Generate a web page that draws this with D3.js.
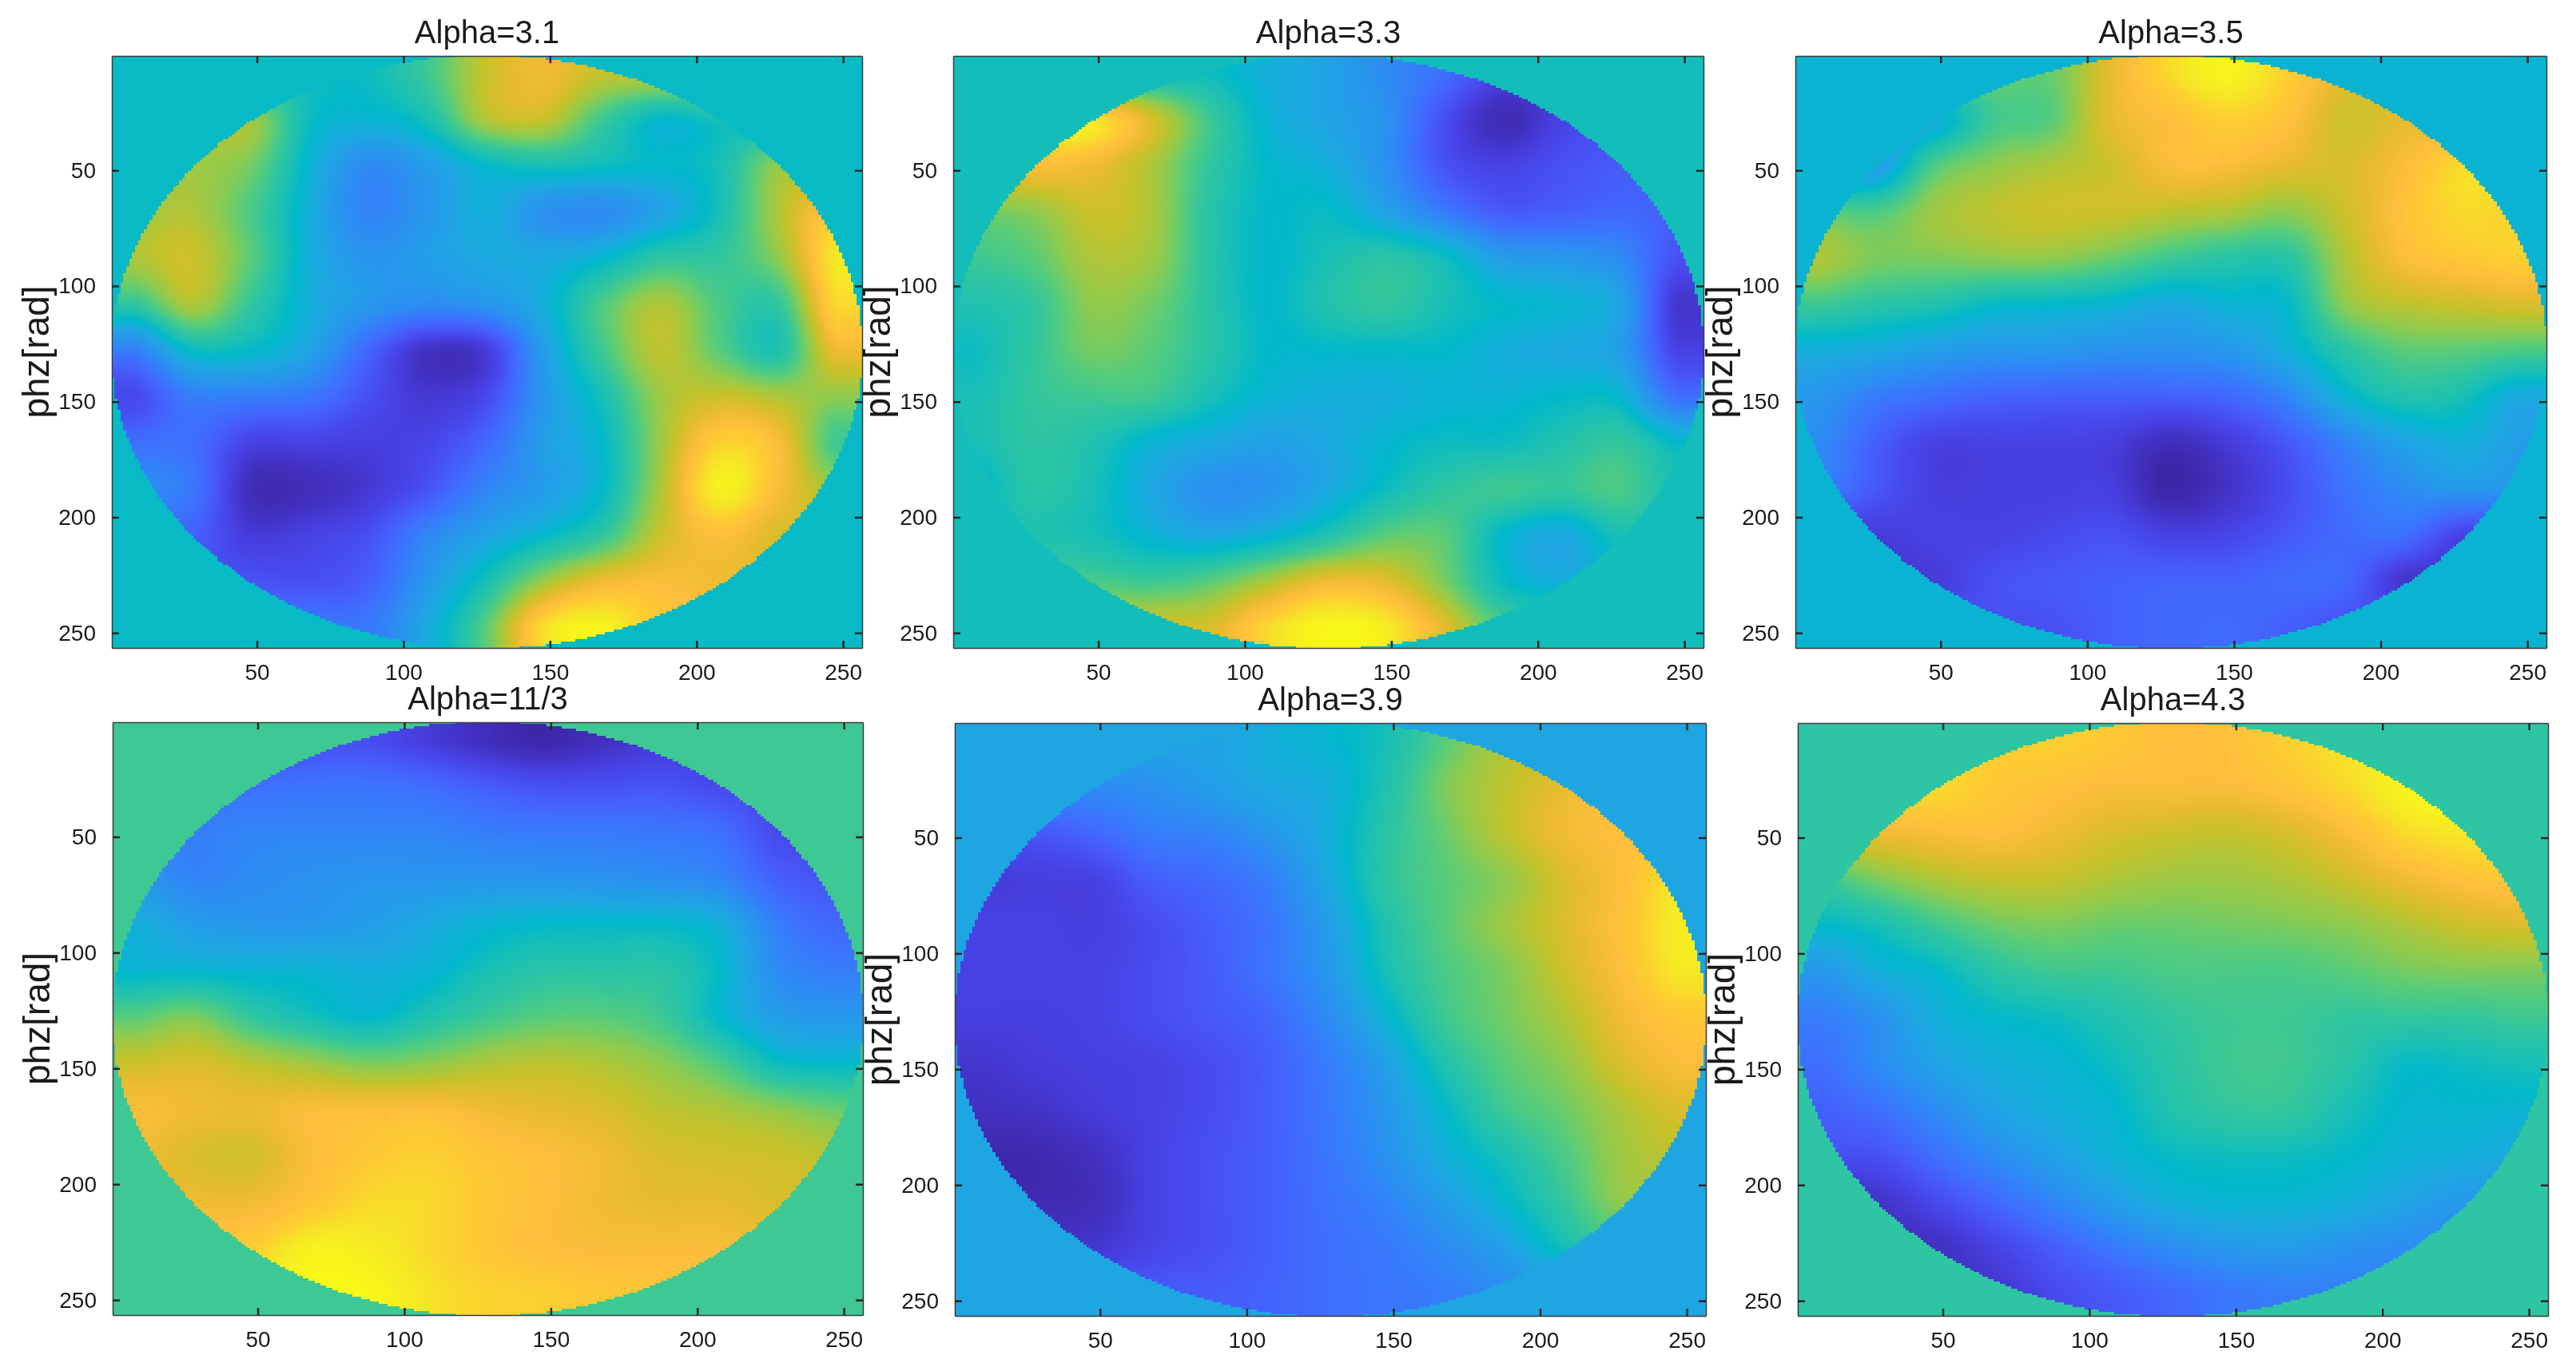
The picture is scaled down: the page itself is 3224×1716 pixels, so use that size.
<!DOCTYPE html>
<html>
<head>
<meta charset="utf-8">
<title>Alpha phase screens</title>
<script src="https://cdn.jsdelivr.net/npm/d3@7"></script>
<style>
  html, body { margin: 0; padding: 0; background: #fff; }
  svg { display: block; filter: blur(0.7px); }
  text { font-family: "Liberation Sans", Arial, sans-serif; fill: #1a1a1a; }
</style>
</head>
<body>
<svg id="canvas" width="3224" height="1716"></svg>
<script>
// Values, on a 0-100 colour position, one row per y in gridPos.
// null = outside the disc, filled from the nearest value in the row.

let titles = ["Alpha=3.1", "Alpha=3.3", "Alpha=3.5", "Alpha=11/3", "Alpha=3.9", "Alpha=4.3"];
let tickValues = [50, 100, 150, 200, 250];
let gridPos = [8, 28, 48, 68, 88, 108, 128, 148, 168, 188, 208, 228, 248];
let outsideValues = [47, 49, 44, 58, 39, 55];

let alpha31 = [
  [null, null, null, null, 48, 58, 75, 82, 75, null, null, null, null],
  [null, null, 70, 48, 44, 50, 72, 75, 58, 46, 50, null, null],
  [null, 70, 65, 44, 30, 36, 46, 50, 48, 46, 50, 68, null],
  [70, 72, 60, 42, 28, 34, 42, 32, 30, 38, 50, 72, 88],
  [72, 76, 62, 42, 33, 36, 40, 40, 45, 55, 56, 68, 95],
  [55, 72, 56, 42, 34, 30, 33, 42, 60, 72, 60, 56, 92],
  [26, 47, 46, 38, 20, 5, 8, 36, 58, 74, 62, 52, 82],
  [12, 26, 26, 24, 14, 7, 12, 34, 50, 70, 76, 72, 68],
  [22, 22, 10, 10, 9, 11, 20, 36, 46, 70, 90, 84, 58],
  [30, 24, 3, 3, 7, 15, 28, 36, 46, 72, 97, 84, 70],
  [null, 18, 8, 10, 14, 28, 38, 46, 56, 76, 85, 78, null],
  [null, null, 15, 14, 18, 34, 50, 70, 82, 84, 82, 80, null],
  [null, null, null, null, 25, 40, 62, 93, 98, 88, null, null, null]
];

let alpha33 = [
  [null, null, null, null, 48, 42, 38, 30, 22, 10, null, null, null],
  [null, null, 94, 78, 58, 44, 38, 32, 14, 2, 10, 14, null],
  [null, 85, 82, 72, 56, 46, 42, 32, 15, 10, 14, 17, 20],
  [65, 68, 76, 72, 54, 46, 47, 38, 26, 17, 18, 20, 18],
  [58, 62, 72, 70, 54, 46, 50, 54, 48, 36, 34, 30, 14],
  [52, 56, 68, 65, 54, 46, 52, 56, 50, 46, 44, 38, 6],
  [48, 56, 65, 62, 54, 46, 46, 46, 46, 42, 40, 36, 10],
  [50, 56, 58, 58, 50, 44, 42, 42, 44, 44, 46, 45, 22],
  [50, 55, 52, 44, 40, 37, 40, 45, 48, 48, 52, 56, 46],
  [45, 54, 50, 40, 32, 33, 40, 48, 55, 58, 56, 60, 50],
  [null, 52, 50, 44, 40, 44, 52, 62, 62, 46, 40, 50, null],
  [null, null, 60, 58, 62, 72, 82, 80, 66, 48, 42, 46, null],
  [null, null, null, null, 78, 92, 99, 96, 80, 60, null, null, null]
];

let alpha35 = [
  [null, null, null, null, 64, 80, 92, 98, 90, 80, null, null, null],
  [null, null, 42, 58, 62, 80, 85, 90, 86, 76, 80, null, null],
  [null, 35, 60, 68, 72, 76, 84, 84, 80, 78, 84, 92, null],
  [62, 60, 70, 74, 76, 76, 74, 72, 68, 76, 86, 92, 90],
  [72, 66, 66, 68, 68, 64, 58, 54, 54, 72, 84, 88, 90],
  [58, 54, 52, 47, 46, 44, 40, 44, 46, 68, 74, 76, 78],
  [42, 40, 36, 34, 34, 32, 32, 34, 42, 54, 62, 62, 60],
  [34, 26, 22, 19, 18, 18, 18, 20, 28, 44, 52, 50, 40],
  [30, 18, 10, 10, 10, 9, 3, 8, 16, 28, 38, 42, 36],
  [26, 16, 9, 9, 9, 9, 0, 5, 13, 23, 30, 34, 32],
  [null, 8, 10, 10, 12, 14, 10, 11, 16, 21, 22, 10, null],
  [null, null, 8, 14, 16, 18, 19, 19, 21, 20, 6, 6, null],
  [null, null, null, null, 14, 18, 20, 21, 18, 14, null, null, null]
];

let alpha113 = [
  [null, null, null, null, 13, 8, 3, 0, 4, 8, null, null, null],
  [null, null, 22, 23, 23, 21, 17, 14, 14, 15, 12, null, null],
  [null, 26, 28, 28, 28, 28, 26, 25, 25, 24, 22, 12, null],
  [34, 28, 30, 32, 33, 33, 33, 33, 32, 31, 28, 18, 15],
  [42, 36, 34, 34, 36, 40, 44, 46, 46, 46, 42, 26, 20],
  [45, 45, 44, 44, 42, 44, 50, 54, 54, 54, 46, 30, 26],
  [62, 66, 56, 50, 46, 52, 58, 62, 62, 58, 46, 36, 34],
  [76, 78, 74, 70, 66, 68, 72, 74, 72, 68, 60, 48, 46],
  [84, 82, 81, 84, 84, 85, 82, 80, 78, 74, 72, 68, 64],
  [82, 78, 77, 84, 88, 90, 87, 85, 82, 78, 77, 76, 74],
  [null, 82, 82, 87, 92, 92, 88, 85, 82, 80, 80, 78, null],
  [null, null, 90, 97, 96, 92, 88, 85, 84, 84, 84, 83, null],
  [null, null, null, 99, 99, 94, 91, 90, 88, 87, null, null, null]
];

let alpha39 = [
  [null, null, null, null, 38, 42, 45, 50, 62, 72, null, null, null],
  [null, null, 30, 32, 36, 40, 42, 52, 66, 74, 80, 85, null],
  [null, 16, 20, 26, 28, 34, 42, 54, 64, 74, 82, 85, null],
  [8, 9, 10, 18, 21, 27, 40, 55, 62, 68, 78, 85, 94],
  [10, 10, 9, 13, 18, 24, 36, 52, 62, 70, 78, 86, 96],
  [10, 10, 10, 13, 17, 24, 34, 50, 60, 66, 76, 85, 95],
  [9, 9, 10, 13, 16, 20, 30, 44, 58, 65, 72, 82, 88],
  [6, 8, 9, 10, 13, 18, 26, 37, 52, 62, 68, 78, 84],
  [4, 5, 8, 10, 13, 18, 25, 34, 46, 58, 64, 72, 78],
  [null, 1, 4, 10, 14, 18, 24, 32, 42, 50, 60, 70, 74],
  [null, 2, 3, 10, 14, 18, 23, 28, 36, 45, 56, 68, null],
  [null, null, 7, 11, 14, 18, 22, 25, 30, 37, 48, 56, null],
  [null, null, null, null, 17, 19, 22, 24, 26, 30, null, null, null]
];

let alpha43 = [
  [null, null, null, null, 90, 88, 85, 86, 90, 94, null, null, null],
  [null, null, 92, 88, 86, 84, 84, 84, 87, 92, 98, 100, null],
  [null, 82, 84, 85, 82, 78, 76, 75, 78, 84, 92, 95, null],
  [58, 66, 72, 75, 75, 72, 70, 70, 72, 76, 82, 86, 88],
  [46, 50, 58, 64, 66, 64, 64, 65, 66, 68, 72, 76, 78],
  [34, 42, 46, 54, 58, 58, 60, 60, 60, 62, 65, 66, 66],
  [26, 32, 42, 46, 48, 52, 56, 58, 58, 56, 56, 56, 58],
  [22, 30, 38, 42, 44, 48, 54, 58, 58, 54, 47, 48, 50],
  [18, 22, 30, 38, 42, 45, 52, 56, 56, 50, 45, 45, 44],
  [null, 14, 22, 30, 37, 43, 47, 48, 48, 46, 43, 42, 40],
  [null, 5, 12, 20, 28, 36, 42, 44, 44, 42, 38, 34, null],
  [null, null, 4, 10, 17, 24, 30, 34, 35, 32, 30, 30, null],
  [null, null, null, 6, 12, 16, 20, 24, 26, 27, null, null, null]
];

let panelGrids = [alpha31, alpha33, alpha35, alpha113, alpha39, alpha43];

// Parula colour map
let parulaStops = [0, 10, 16, 22, 30, 40, 46, 50, 56, 62, 68, 75, 80, 85, 90, 95, 100];
let parulaColors = ["#3e26a8", "#4741e5", "#4758f8", "#3e6fff", "#2d8cf3", "#1ca9e0", "#01b8ca", "#18bfb5",
  "#31c69f", "#57cc7a", "#8fcb4e", "#c5c22a", "#e6bb2d", "#febe3c", "#fccf30", "#f5e924", "#f9fb15"];
let color = d3.scaleLinear().domain(parulaStops).range(parulaColors).clamp(true);

// Where each axes box sits on the page [left, right, top, bottom]
let boxes = [
  [140, 1079, 70, 811],
  [1193, 2132, 70, 811],
  [2247, 3187, 70, 811],
  [141, 1080, 904, 1646],
  [1195, 2135, 905, 1647],
  [2250, 3189, 905, 1647]
];

let svg = d3.select("#canvas");
let toIndex = d3.scaleLinear().domain([gridPos[0], gridPos[gridPos.length - 1]]).range([0, gridPos.length - 1]).clamp(true);

// Fill the null cells from the nearest value of the same row
let fillRow = (row) => row.map((v, i) => {
  if (v !== null) return v;
  let best = null;
  for (let d = 1; best === null; d++) {
    if (i - d >= 0 && row[i - d] !== null) best = row[i - d];
    else if (i + d < row.length && row[i + d] !== null) best = row[i + d];
  }
  return best;
});

// Catmull-Rom through four neighbours, this stands in for the smooth shading of the image
let spline = (a, b, c, d, t) =>
  0.5 * (2 * b + (c - a) * t + (2 * a - 5 * b + 4 * c - d) * t * t + (3 * b - a - 3 * c + d) * t * t * t);

let at = (list, i) => list[Math.max(0, Math.min(list.length - 1, i))];

let sampleRow = (row, tx) => {
  let i = Math.floor(tx);
  return spline(at(row, i - 1), at(row, i), at(row, i + 1), at(row, i + 2), tx - i);
};

let sample = (grid, u, v) => {
  let tx = toIndex(u);
  let ty = toIndex(v);
  let j = Math.floor(ty);
  return spline(
    sampleRow(at(grid, j - 1), tx),
    sampleRow(at(grid, j), tx),
    sampleRow(at(grid, j + 1), tx),
    sampleRow(at(grid, j + 2), tx),
    ty - j
  );
};

let drawPanel = (index) => {
  let [left, right, top, bottom] = boxes[index];
  let grid = panelGrids[index].map(fillRow);
  let x = d3.scaleLinear().domain([0.5, 256.5]).range([left, right]);
  let y = d3.scaleLinear().domain([0.5, 256.5]).range([top, bottom]);

  // The image is drawn on an off-screen canvas, one cell per unit, then put in the svg
  let off = document.createElement("canvas");
  off.width = right - left;
  off.height = bottom - top;
  let ctx = off.getContext("2d");
  ctx.fillStyle = color(outsideValues[index]);
  ctx.fillRect(0, 0, off.width, off.height);
  for (let v = 1; v <= 256; v++) {
    for (let u = 1; u <= 256; u++) {
      let du = u - 128.5;
      let dv = v - 128.5;
      if (du * du + dv * dv > 128 * 128) continue;
      ctx.fillStyle = color(sample(grid, u, v));
      let px = Math.floor(x(u - 0.5) - left);
      let py = Math.floor(y(v - 0.5) - top);
      ctx.fillRect(px, py, Math.ceil(x(u + 0.5) - left) - px, Math.ceil(y(v + 0.5) - top) - py);
    }
  }

  let panel = svg.append("g").attr("class", "panel");

  panel.append("image")
    .attr("x", left)
    .attr("y", top)
    .attr("width", right - left)
    .attr("height", bottom - top)
    .attr("href", off.toDataURL());

  // Ticks go inwards, on all four sides like a boxed MATLAB axes
  let axes = [
    [d3.axisBottom(x), 0, bottom, true],
    [d3.axisTop(x), 0, top, false],
    [d3.axisLeft(y), left, 0, true],
    [d3.axisRight(y), right, 0, false]
  ];
  axes.forEach(([axis, tx, ty, labelled]) => {
    let g = panel.append("g")
      .attr("transform", "translate(" + tx + "," + ty + ")")
      .call(axis.tickValues(tickValues).tickSizeInner(-9).tickSizeOuter(0).tickPadding(labelled ? 20 : 0));
    g.select(".domain").attr("stroke", "#3c3c3c").attr("stroke-width", 1.5);
    g.selectAll(".tick line").attr("stroke", "#262626").attr("stroke-width", 2.5);
    g.selectAll(".tick text").attr("font-size", 28).attr("font-family", null);
    if (!labelled) g.selectAll(".tick text").remove();
  });

  panel.append("text")
    .attr("x", (left + right) / 2)
    .attr("y", top - 16)
    .attr("text-anchor", "middle")
    .attr("font-size", 40)
    .text(titles[index]);

  panel.append("text")
    .attr("transform", "translate(" + (left - 79) + "," + (top + bottom) / 2 + ") rotate(-90)")
    .attr("text-anchor", "middle")
    .attr("font-size", 46)
    .text("phz[rad]");
};

titles.forEach((t, i) => drawPanel(i));
</script>
</body>
</html>
